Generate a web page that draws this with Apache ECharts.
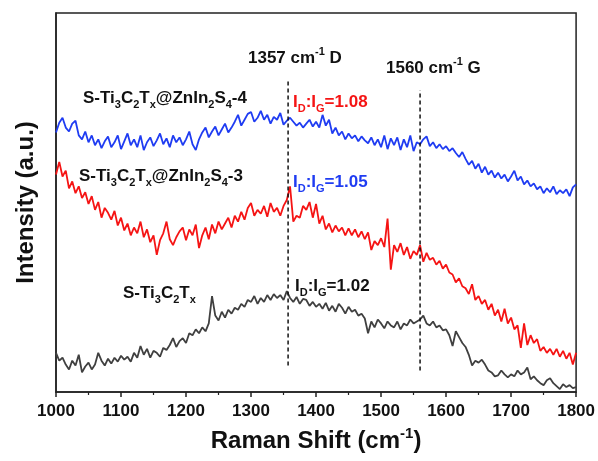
<!DOCTYPE html>
<html>
<head>
<meta charset="utf-8">
<script src="https://cdn.jsdelivr.net/npm/echarts@6/dist/echarts.min.js"></script>
<style>
  html, body { margin: 0; padding: 0; background: #fff; }
  #chart { width: 598px; height: 461px; }
</style>
</head>
<body>
<div id="chart"></div>
<script>
// Raman spectra sampled every 5 cm-1 from 1000 to 1800 cm-1 (offset for display)
const shiftStart = 1000;
const shiftStep = 5;

const zis4 = [
  265,275,280,270,266,274,277,262,258,266,
  255,262,252,258,249,256,261,250,255,262,
  248,256,264,252,258,250,262,247,255,260,
  251,257,264,253,259,250,262,255,260,252,
  258,266,253,247,258,265,270,260,266,271,
  262,268,274,265,270,276,283,272,278,284,
  286,276,280,287,278,283,274,281,278,285,
  273,277,280,276,272,275,270,274,278,271,
  276,270,283,272,278,264,270,262,266,258,
  264,259,262,256,261,257,254,260,252,258,
  250,262,248,259,252,260,247,258,250,262,
  246,255,253,258,261,251,255,249,253,248,
  251,246,249,244,240,245,238,232,236,228,
  233,224,230,222,226,219,224,218,222,215,
  220,226,216,220,212,216,210,213,207,210,
  203,208,204,210,202,206,203,207,200,209,
  212
];

const zis3 = [
  222,235,220,226,208,215,203,210,198,204,
  192,200,186,194,178,188,183,176,185,170,
  178,165,172,160,168,162,174,158,166,153,
  160,140,155,162,174,156,150,158,164,168,
  155,166,160,171,147,160,168,156,171,162,
  174,166,172,178,168,180,174,184,176,188,
  193,180,186,182,190,179,193,184,188,180,
  190,196,210,174,180,178,190,186,194,178,
  192,172,180,166,172,163,170,164,168,160,
  167,160,166,158,164,156,163,145,154,150,
  157,148,177,125,150,143,152,140,148,136,
  144,140,150,133,142,135,137,130,134,126,
  130,122,120,112,116,108,106,100,110,94,
  98,90,94,84,90,78,84,72,85,70,
  76,64,68,45,70,48,58,50,54,42,
  46,40,44,38,44,36,42,34,40,28,
  40
];

const mxene = [
  40,32,35,28,23,32,27,38,20,26,
  30,23,28,40,32,27,34,29,35,31,
  37,33,36,31,40,35,47,38,44,35,
  42,40,36,45,43,48,55,46,52,55,
  50,60,58,64,60,66,62,70,98,78,
  73,82,76,84,80,86,84,90,87,94,
  92,98,90,96,92,99,94,100,96,99,
  94,103,96,92,97,90,95,94,88,92,
  87,90,85,91,83,88,82,90,86,80,
  87,82,84,78,80,75,60,72,66,74,
  70,65,72,68,66,72,64,70,68,74,
  70,72,74,78,70,68,72,66,68,63,
  64,58,47,62,56,50,46,38,27,32,
  30,33,28,22,20,16,17,22,18,15,
  18,16,22,18,20,25,13,16,12,9,
  7,12,14,9,6,3,8,5,7,4,
  5
];

// Band positions and the vertical extent of their guide lines
const dBand = [1357, 27, 317];
const gBand = [1560, 22, 308];

const xTicks = [1000, 1100, 1200, 1300, 1400, 1500, 1600, 1700, 1800];

const shifts = zis4.map((_, i) => shiftStart + i * shiftStep);
const pairs = vals => vals.map((v, i) => [shifts[i], v]);

const FONT = 'Arial, "Liberation Sans", Helvetica, sans-serif';

function richSet(color, small) {
  const base = { fontFamily: FONT, fontWeight: 'bold', fontSize: small, fill: color, lineHeight: 12 };
  return {
    sub: Object.assign({}, base, { verticalAlign: 'bottom' }),
    sup: Object.assign({}, base, { verticalAlign: 'top' })
  };
}

function label(x, y, text, color) {
  return {
    type: 'text',
    x: x, y: y,
    z: 100,
    style: {
      text: text,
      fill: color,
      fontFamily: FONT,
      fontWeight: 'bold',
      fontSize: 17,
      lineHeight: 24,
      textAlign: 'left',
      textVerticalAlign: 'middle',
      verticalAlign: 'middle',
      rich: richSet(color, 11)
    }
  };
}

const chart = echarts.init(document.getElementById('chart'), null, { renderer: 'canvas' });

chart.setOption({
  animation: false,
  backgroundColor: '#fff',
  grid: {
    left: 56, right: 20, top: 13, bottom: 61,
    show: true, borderColor: '#222', borderWidth: 1.5, backgroundColor: 'transparent'
  },
  xAxis: {
    type: 'value',
    min: xTicks[0], max: xTicks[xTicks.length - 1], interval: 100,
    name: 'Raman Shift (cm{sup|-1})',
    nameLocation: 'middle',
    nameGap: 34,
    nameTextStyle: {
      fontFamily: FONT, fontWeight: 'bold', fontSize: 24, color: '#111', lineHeight: 30,
      rich: { sup: { fontFamily: FONT, fontWeight: 'bold', fontSize: 15, color: '#111', lineHeight: 16, verticalAlign: 'top' } }
    },
    axisLine: { show: true, lineStyle: { color: '#222', width: 1.5 } },
    axisTick: { show: true, inside: false, length: 5, lineStyle: { color: '#222', width: 1.5 } },
    minorTick: { show: true, splitNumber: 2, length: 3, lineStyle: { color: '#222', width: 1.2 } },
    axisLabel: {
      fontFamily: FONT, fontWeight: 'bold', fontSize: 17, color: '#111', margin: 11,
      formatter: v => String(v)
    },
    splitLine: { show: false }
  },
  yAxis: {
    type: 'value',
    min: 0, max: 387,
    name: 'Intensity (a.u.)',
    nameLocation: 'middle',
    nameGap: 18,
    nameTextStyle: { fontFamily: FONT, fontWeight: 'bold', fontSize: 24, color: '#111' },
    axisLine: { show: true, lineStyle: { color: '#222', width: 1.5 } },
    axisTick: { show: false },
    axisLabel: { show: false },
    splitLine: { show: false }
  },
  series: [
    {
      name: 'S-Ti3C2Tx@ZnIn2S4-4', type: 'line', data: pairs(zis4),
      showSymbol: false, lineStyle: { color: '#1f3cf2', width: 1.8 }, z: 3
    },
    {
      name: 'S-Ti3C2Tx@ZnIn2S4-3', type: 'line', data: pairs(zis3),
      showSymbol: false, lineStyle: { color: '#f51414', width: 1.8 }, z: 3
    },
    {
      name: 'S-Ti3C2Tx', type: 'line', data: pairs(mxene),
      showSymbol: false, lineStyle: { color: '#404040', width: 1.8 }, z: 3
    },
    {
      name: 'D band', type: 'line',
      data: [[dBand[0], dBand[1]], [dBand[0], dBand[2]]],
      showSymbol: false, lineStyle: { color: '#111', width: 1.5, type: [4, 3] }, z: 4
    },
    {
      name: 'G band', type: 'line',
      data: [[gBand[0], gBand[1]], [gBand[0], gBand[2]]],
      showSymbol: false, lineStyle: { color: '#111', width: 1.5, type: [4, 3] }, z: 4
    }
  ],
  graphic: [
    label(248, 58, '1357 cm{sup|-1} D', '#111'),
    label(386, 68, '1560 cm{sup|-1} G', '#111'),
    label(83, 98, 'S-Ti{sub|3}C{sub|2}T{sub|x}@ZnIn{sub|2}S{sub|4}-4', '#111'),
    label(293, 102, 'I{sub|D}:I{sub|G}=1.08', '#f51414'),
    label(79, 176, 'S-Ti{sub|3}C{sub|2}T{sub|x}@ZnIn{sub|2}S{sub|4}-3', '#111'),
    label(293, 182, 'I{sub|D}:I{sub|G}=1.05', '#1f3cf2'),
    label(123, 293, 'S-Ti{sub|3}C{sub|2}T{sub|x}', '#111'),
    label(295, 286, 'I{sub|D}:I{sub|G}=1.02', '#111')
  ]
});
</script>
</body>
</html>
